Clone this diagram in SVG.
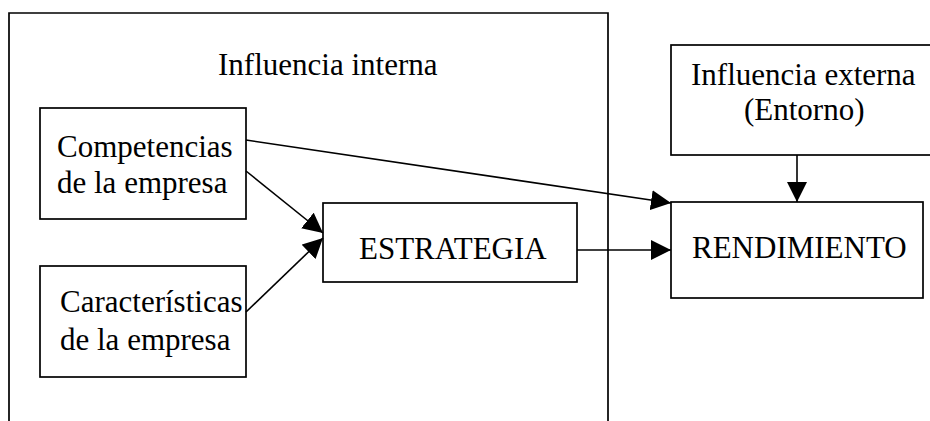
<svg xmlns="http://www.w3.org/2000/svg" width="930" height="421" viewBox="0 0 930 421">
<style>
.box{fill:#fff;stroke:#000;stroke-width:1.7}
.t{font-size:31px;fill:#000}
.c{stroke:#000;stroke-width:1.6;fill:none;marker-end:url(#ah)}
</style>
<defs>
<marker id="ah" markerUnits="userSpaceOnUse" markerWidth="20" markerHeight="20" refX="20" refY="10" orient="auto" viewBox="0 0 20 20">
<path d="M0,0 L20,10 L0,20 z" fill="#000"/>
</marker>
</defs>
<rect width="930" height="421" fill="#fff"/>
<g font-family="Liberation Serif, DejaVu Serif, serif">
<g id="interna">
<path d="M9,425 V13 H608 V425" class="box" fill="none"/>
<text class="t" x="218" y="75">Influencia interna</text>
</g>
<g id="competencias">
<rect class="box" x="40" y="108" width="206" height="111"/>
<text class="t" x="57" y="157">Competencias</text>
<text class="t" x="57" y="193">de la empresa</text>
</g>
<g id="caracteristicas">
<rect class="box" x="40" y="266" width="206" height="111"/>
<text class="t" x="60" y="312">Características</text>
<text class="t" x="60" y="350">de la empresa</text>
</g>
<g id="estrategia">
<rect class="box" x="323" y="203" width="254" height="79"/>
<text class="t" x="359" y="259">ESTRATEGIA</text>
</g>
<g id="externa">
<rect class="box" x="671" y="45" width="262" height="110"/>
<text class="t" x="691" y="85">Influencia externa</text>
<text class="t" x="744" y="120">(Entorno)</text>
</g>
<g id="rendimiento">
<rect class="box" x="671" y="202" width="252" height="96"/>
<text class="t" x="692" y="258">RENDIMIENTO</text>
</g>
</g>
<g id="connectors">
<line class="c" x1="246" y1="140" x2="671" y2="203"/>
<line class="c" x1="246" y1="171" x2="323" y2="233"/>
<line class="c" x1="246" y1="312" x2="323" y2="238"/>
<line class="c" x1="577" y1="250" x2="671" y2="250"/>
<line class="c" x1="797" y1="155" x2="797" y2="202"/>
</g>
</svg>
